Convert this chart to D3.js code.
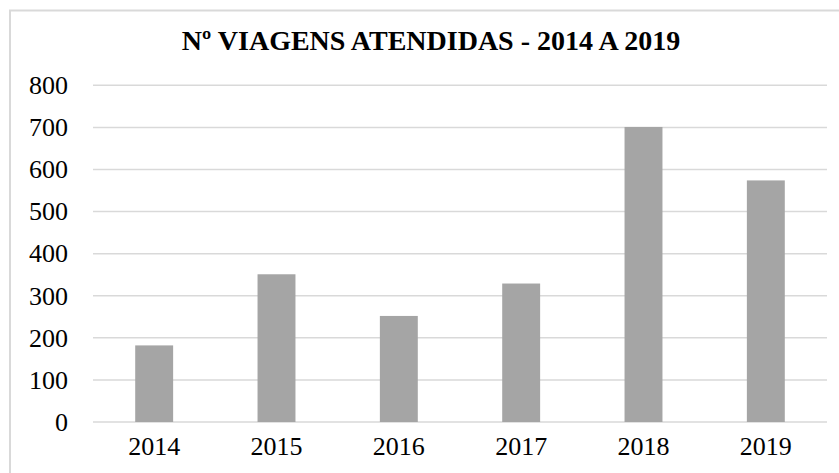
<!DOCTYPE html>
<html>
<head>
<meta charset="utf-8">
<script src="https://cdn.jsdelivr.net/npm/d3@7"></script>
<style>
  body { margin: 0; background: #fff; }
  svg text { font-family: 'Liberation Serif', 'DejaVu Serif', serif; fill: #000; }
</style>
</head>
<body>
<div id="chart"></div>
<script>
const years = ["2014", "2015", "2016", "2017", "2018", "2019"];
const viagens = [182, 351, 252, 329, 701, 574];
const yTicks = [0, 100, 200, 300, 400, 500, 600, 700, 800];
const title = "Nº VIAGENS ATENDIDAS - 2014 A 2019";

const width = 839;
const height = 473;
const margin = {top: 85, right: 12, bottom: 51, left: 93};
const serif = "'Liberation Serif', 'DejaVu Serif', serif";

const svg = d3.select("#chart")
  .append("svg")
  .attr("width", width)
  .attr("height", height);

// chart frame (runs off the right and bottom edge)
svg.append("rect")
  .attr("x", 10)
  .attr("y", 10.5)
  .attr("width", 860)
  .attr("height", 500)
  .attr("fill", "none")
  .attr("stroke", "#d9d9d9")
  .attr("stroke-width", 2);

const x = d3.scaleBand()
  .domain(years)
  .range([margin.left, width - margin.right])
  .paddingInner(0.69)
  .paddingOuter(0.345);

const y = d3.scaleLinear()
  .domain([0, 800])
  .range([height - margin.bottom, margin.top + 0.3]);

// gridlines
svg.append("g")
  .selectAll("line")
  .data(yTicks)
  .enter()
  .append("line")
  .attr("x1", margin.left)
  .attr("x2", width - margin.right)
  .attr("y1", d => y(d))
  .attr("y2", d => y(d))
  .attr("stroke", "#d9d9d9")
  .attr("stroke-width", 1.5);

// bars
svg.append("g")
  .selectAll("rect")
  .data(viagens)
  .enter()
  .append("rect")
  .attr("x", (d, i) => x(years[i]))
  .attr("y", d => y(d))
  .attr("width", x.bandwidth())
  .attr("height", d => y(0) - y(d))
  .attr("fill", "#a5a5a5");

// y axis labels
const yAxis = svg.append("g")
  .attr("transform", `translate(${margin.left},0)`)
  .call(d3.axisLeft(y).tickValues(yTicks).tickSize(0).tickPadding(25));
yAxis.attr("font-family", serif);
yAxis.select(".domain").remove();
yAxis.selectAll("text")
  .style("font-size", "26px")
  .attr("fill", "#000");

// x axis labels
const xAxis = svg.append("g")
  .attr("transform", `translate(0,${y(0)})`)
  .call(d3.axisBottom(x).tickSize(0).tickPadding(15));
xAxis.attr("font-family", serif);
xAxis.select(".domain").remove();
xAxis.selectAll("text")
  .style("font-size", "26px")
  .attr("fill", "#000");

// title
svg.append("text")
  .attr("x", 431)
  .attr("y", 50)
  .attr("text-anchor", "middle")
  .style("font-size", "28px")
  .style("font-weight", "bold")
  .text(title);
</script>
</body>
</html>
